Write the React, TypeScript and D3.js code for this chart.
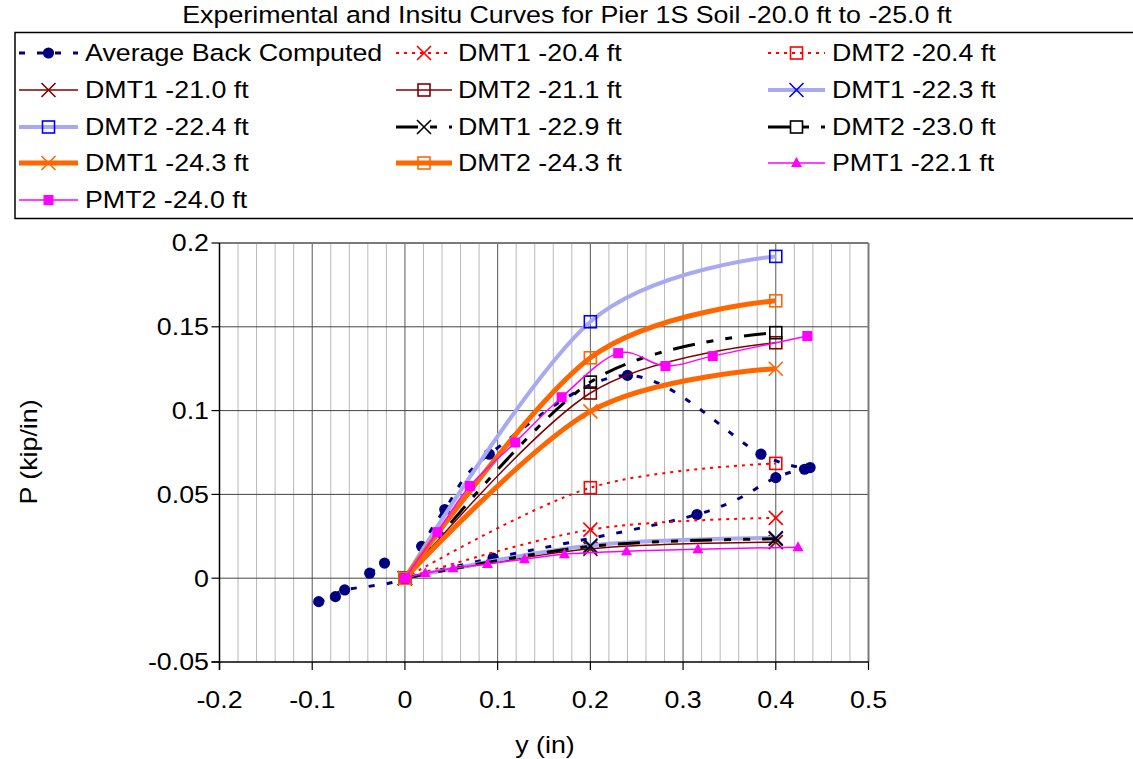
import React from 'react';
import * as d3 from 'd3';

const W = 1133;
const H = 759;
const FONT = '"Liberation Sans", Arial, Helvetica, sans-serif';
const FS = 23.5;
const SX = 1.14;

const chartTitle = 'Experimental and Insitu Curves for Pier 1S Soil -20.0 ft to -25.0 ft';
const xLabel = 'y (in)';
const yLabel = 'P (kip/in)';
const xTickValues = [-0.2, -0.1, 0, 0.1, 0.2, 0.3, 0.4, 0.5];
const yTickValues = [-0.05, 0, 0.05, 0.1, 0.15, 0.2];

// Average back-computed p-y points; null separates the load branches
const avgDisp = [-0.093, -0.075, -0.065, 0, 0.018, 0.043, 0.091, 0.24, 0.384, 0.437, null, 0, 0.095, 0.315, 0.4, 0.431, null, -0.038, -0.022];
const avgLoad = [-0.014, -0.011, -0.007, 0, 0.019, 0.041, 0.074, 0.121, 0.074, 0.066, null, 0, 0.012, 0.038, 0.06, 0.065, null, 0.003, 0.009];

// DMT curves share the same displacements
const dmtDisp = [0, 0.2, 0.4];
const dmt1At20_4 = [0, 0.029, 0.036];
const dmt2At20_4 = [0, 0.054, 0.0685];
const dmt1At21_0 = [0, 0.0175, 0.0215];
const dmt2At21_1 = [0, 0.1105, 0.1405];
const dmt1At22_3 = [0, 0.0195, 0.024];
const dmt2At22_4 = [0, 0.153, 0.192];
const dmt1At22_9 = [0, 0.019, 0.0235];
const dmt2At23_0 = [0, 0.117, 0.1465];
const dmt1At24_3 = [0, 0.0995, 0.125];
const dmt2At24_3 = [0, 0.1315, 0.1655];

// Pressuremeter curves
const pmt1Disp = [0, 0.022, 0.052, 0.089, 0.129, 0.172, 0.239, 0.316, 0.424];
const pmt1Load = [0, 0.003, 0.006, 0.0085, 0.0113, 0.0143, 0.0161, 0.0173, 0.0185];
const pmt2Disp = [0, 0.035, 0.07, 0.119, 0.169, 0.23, 0.281, 0.332, 0.434];
const pmt2Load = [0, 0.0275, 0.055, 0.081, 0.108, 0.1343, 0.1266, 0.1325, 0.1445];

type MarkerType = 'circle' | 'x' | 'square' | 'fsquare' | 'triangle';
interface Series {
  name: string;
  xs: (number | null)[];
  ys: (number | null)[];
  stroke: string;
  width: number;
  dash?: string;
  marker: MarkerType;
  mcolor: string;
}

const RED = '#ff0000';
const MAROON = '#800000';
const LAV = '#a9a9f2';
const BLUE = '#0000ff';
const ORANGE = '#ff6600';
const MAGENTA = '#ff00ff';
const NAVY = '#000080';
const DOT = '3 5';
const DASHDOTDOT = '22 12 7 12 7 12';

const series: Series[] = [
  { name: 'Average Back Computed', xs: avgDisp, ys: avgLoad, stroke: NAVY, width: 3, dash: '6 12', marker: 'circle', mcolor: NAVY },
  { name: 'DMT1 -20.4 ft', xs: dmtDisp, ys: dmt1At20_4, stroke: RED, width: 2, dash: DOT, marker: 'x', mcolor: RED },
  { name: 'DMT2 -20.4 ft', xs: dmtDisp, ys: dmt2At20_4, stroke: RED, width: 2, dash: DOT, marker: 'square', mcolor: RED },
  { name: 'DMT1 -21.0 ft', xs: dmtDisp, ys: dmt1At21_0, stroke: MAROON, width: 1.5, marker: 'x', mcolor: MAROON },
  { name: 'DMT2 -21.1 ft', xs: dmtDisp, ys: dmt2At21_1, stroke: MAROON, width: 1.5, marker: 'square', mcolor: MAROON },
  { name: 'DMT1 -22.3 ft', xs: dmtDisp, ys: dmt1At22_3, stroke: LAV, width: 4, marker: 'x', mcolor: BLUE },
  { name: 'DMT2 -22.4 ft', xs: dmtDisp, ys: dmt2At22_4, stroke: LAV, width: 4, marker: 'square', mcolor: BLUE },
  { name: 'DMT1 -22.9 ft', xs: dmtDisp, ys: dmt1At22_9, stroke: '#000000', width: 3, dash: DASHDOTDOT, marker: 'x', mcolor: '#000000' },
  { name: 'DMT2 -23.0 ft', xs: dmtDisp, ys: dmt2At23_0, stroke: '#000000', width: 3, dash: DASHDOTDOT, marker: 'square', mcolor: '#000000' },
  { name: 'DMT1 -24.3 ft', xs: dmtDisp, ys: dmt1At24_3, stroke: ORANGE, width: 5, marker: 'x', mcolor: ORANGE },
  { name: 'DMT2 -24.3 ft', xs: dmtDisp, ys: dmt2At24_3, stroke: ORANGE, width: 5, marker: 'square', mcolor: ORANGE },
  { name: 'PMT1 -22.1 ft', xs: pmt1Disp, ys: pmt1Load, stroke: MAGENTA, width: 1.5, marker: 'triangle', mcolor: MAGENTA },
  { name: 'PMT2 -24.0 ft', xs: pmt2Disp, ys: pmt2Load, stroke: MAGENTA, width: 1.5, marker: 'fsquare', mcolor: MAGENTA },
];

const plot = { left: 219.5, right: 868.5, top: 243, bottom: 662 };
const xScale = d3.scaleLinear().domain([-0.2, 0.5]).range([plot.left, plot.right]);
const yScale = d3.scaleLinear().domain([-0.05, 0.2]).range([plot.bottom, plot.top]);

type Pt = [number | null, number | null];
const smoothLine = d3
  .line<Pt>()
  .defined((d) => d[0] != null && d[1] != null)
  .x((d) => xScale(d[0] as number))
  .y((d) => yScale(d[1] as number))
  .curve(d3.curveCardinal.tension(0));

function Marker({ type, cx, cy, color }: { type: MarkerType; cx: number; cy: number; color: string }) {
  switch (type) {
    case 'circle':
      return <circle cx={cx} cy={cy} r={5.6} fill={color} />;
    case 'x': {
      const s = 7;
      return (
        <path
          d={`M${cx - s},${cy - s}L${cx + s},${cy + s}M${cx - s},${cy + s}L${cx + s},${cy - s}`}
          stroke={color}
          strokeWidth={1.6}
          fill="none"
        />
      );
    }
    case 'square':
      return <rect x={cx - 6} y={cy - 6} width={12} height={12} fill="none" stroke={color} strokeWidth={1.6} />;
    case 'fsquare':
      return <rect x={cx - 5} y={cy - 5} width={10} height={10} fill={color} />;
    case 'triangle':
      return <path d={`M${cx},${cy - 6}L${cx + 5.5},${cy + 4}L${cx - 5.5},${cy + 4}Z`} fill={color} />;
  }
  return null;
}

function Label({ x, y, anchor = 'start', children, rotate = 0 }: { x: number; y: number; anchor?: string; children: string; rotate?: number }) {
  return (
    <text
      transform={`translate(${x},${y}) rotate(${rotate}) scale(${SX},1)`}
      textAnchor={anchor as any}
      fontFamily={FONT}
      fontSize={FS}
      fill="#000"
      style={{ whiteSpace: 'pre' }}
    >
      {children}
    </text>
  );
}

// legend layout: three columns, row-major
const legendCols = [
  { x0: 19, x1: 78, tx: 85 },
  { x0: 396, x1: 452, tx: 458 },
  { x0: 768, x1: 825, tx: 832 },
];
const legendRowY = [53, 90, 127, 163, 200];

export default function App() {
  const minor = d3.range(-9, 25).map((i) => ({ v: i * 0.02, major: i % 5 === 0 }));
  return (
    <svg width={W} height={H} style={{ position: 'absolute', left: 0, top: 0, background: '#fff' }}>
      <rect x={0} y={0} width={W} height={H} fill="#fff" />
      <Label x={567} y={23} anchor="middle">{chartTitle}</Label>

      {/* legend */}
      <rect x={15} y={32.5} width={1135} height={186} fill="none" stroke="#000" strokeWidth={1.5} />
      {series.map((s, i) => {
        const col = legendCols[i % 3];
        const cy = legendRowY[Math.floor(i / 3)];
        const mx = (col.x0 + col.x1) / 2;
        return (
          <g key={s.name}>
            <line x1={col.x0} x2={col.x1} y1={cy} y2={cy} stroke={s.stroke} strokeWidth={s.width} strokeDasharray={s.dash} />
            <Marker type={s.marker} cx={mx} cy={cy} color={s.mcolor} />
            <Label x={col.tx} y={cy + 8.4}>{s.name}</Label>
          </g>
        );
      })}

      {/* grid */}
      {minor.filter((m) => !m.major).map((m) => (
        <line key={`mi${m.v}`} x1={xScale(m.v)} x2={xScale(m.v)} y1={plot.top} y2={plot.bottom} stroke="#b8b8b8" strokeWidth={1} />
      ))}
      {minor.filter((m) => m.major).map((m) => (
        <line key={`ma${m.v}`} x1={xScale(m.v)} x2={xScale(m.v)} y1={plot.top} y2={plot.bottom} stroke="#555" strokeWidth={1} />
      ))}
      {yTickValues.slice(1, -1).map((v) => (
        <line key={`h${v}`} x1={plot.left} x2={plot.right} y1={yScale(v)} y2={yScale(v)} stroke="#444" strokeWidth={1} />
      ))}
      <line x1={plot.left} x2={plot.right} y1={plot.top} y2={plot.top} stroke="#7a7a7a" strokeWidth={2} />
      <line x1={plot.right} x2={plot.right} y1={plot.top} y2={plot.bottom} stroke="#7a7a7a" strokeWidth={2} />

      {/* axes */}
      <line x1={plot.left} x2={plot.left} y1={plot.top} y2={plot.bottom + 8} stroke="#000" strokeWidth={1.5} />
      <line x1={plot.left - 8} x2={plot.right} y1={plot.bottom} y2={plot.bottom} stroke="#000" strokeWidth={1.5} />
      {yTickValues.map((v) => (
        <g key={`yt${v}`}>
          <line x1={plot.left - 8} x2={plot.left} y1={yScale(v)} y2={yScale(v)} stroke="#000" strokeWidth={1.2} />
          <Label x={209} y={yScale(v) + 8.4} anchor="end">{String(v)}</Label>
        </g>
      ))}
      {xTickValues.map((v) => (
        <g key={`xt${v}`}>
          <line x1={xScale(v)} x2={xScale(v)} y1={plot.bottom} y2={plot.bottom + 8} stroke="#000" strokeWidth={1.2} />
          <Label x={xScale(v)} y={708} anchor="middle">{String(v)}</Label>
        </g>
      ))}
      <Label x={545} y={753} anchor="middle">{xLabel}</Label>
      <Label x={37} y={452} anchor="middle" rotate={-90}>{yLabel}</Label>

      {/* series */}
      {series.map((s) => {
        const pts: Pt[] = s.xs.map((x, i) => [x, s.ys[i]]);
        return (
          <g key={`s${s.name}`}>
            <path d={smoothLine(pts) || ''} fill="none" stroke={s.stroke} strokeWidth={s.width} strokeDasharray={s.dash} />
            {pts
              .filter((p) => p[0] != null && p[1] != null)
              .map((p, j) => (
                <Marker key={j} type={s.marker} cx={xScale(p[0] as number)} cy={yScale(p[1] as number)} color={s.mcolor} />
              ))}
          </g>
        );
      })}
    </svg>
  );
}
